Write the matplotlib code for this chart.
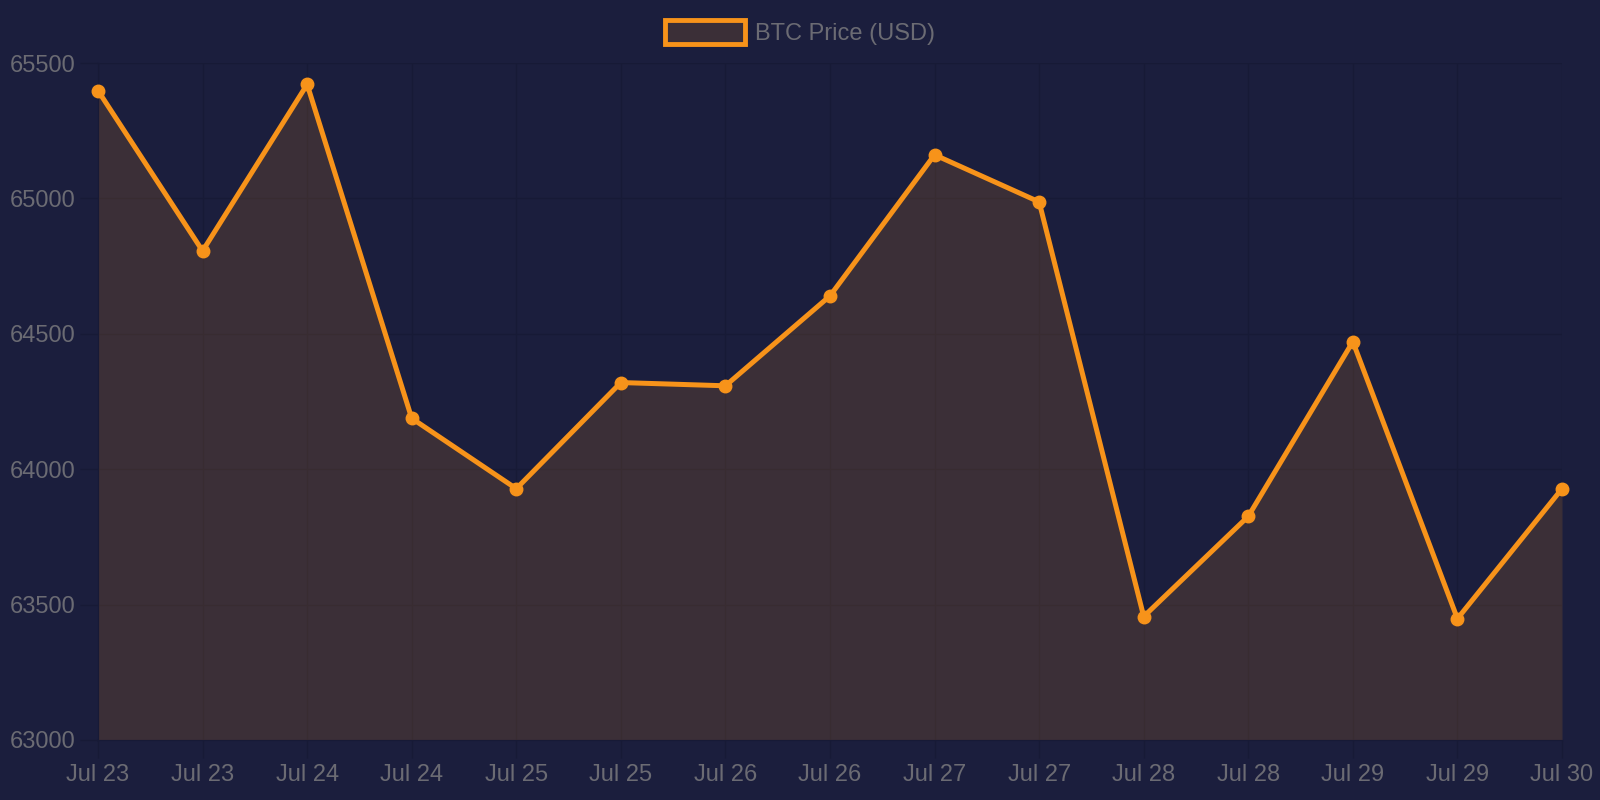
import matplotlib.pyplot as plt
from matplotlib.patches import Patch

# ── Data ──
labels = ['Jul 23', 'Jul 23', 'Jul 24', 'Jul 24', 'Jul 25', 'Jul 25', 'Jul 26', 'Jul 26',
          'Jul 27', 'Jul 27', 'Jul 28', 'Jul 28', 'Jul 29', 'Jul 29', 'Jul 30']
price = [65398, 64806, 65421, 64188, 63928, 64320, 64308, 64640,
         65161, 64987, 63456, 63826, 64471, 63448, 63928]
y_ticks = [63000, 63500, 64000, 64500, 65000, 65500]

# ── Style ──
BG = '#1b1e3d'
ORANGE = '#f7931a'
FILL = (247/255, 147/255, 26/255, 0.15)
GRID = '#171a36'
TXT = '#6b6b73'

plt.rcParams['font.family'] = ['Liberation Sans', 'DejaVu Sans']

fig = plt.figure(figsize=(16, 8), dpi=100, facecolor=BG)
ax = fig.add_axes([0.06125, 0.075, 0.915, 0.84625], facecolor=BG)

x = list(range(len(price)))
ax.fill_between(x, price, 63000, color=FILL, linewidth=0)
ax.plot(x, price, color=ORANGE, linewidth=3.6, marker='o', markersize=9,
        solid_joinstyle='miter', zorder=3, clip_on=False)

ax.set_xlim(0, len(price) - 1)
ax.set_ylim(63000, 65500)
ax.set_xticks(x)
ax.set_xticklabels(labels)
ax.set_yticks(y_ticks)
ax.set_yticklabels([str(v) for v in y_ticks])

ax.grid(True, color=GRID, linewidth=1)
ax.set_axisbelow(True)
for s in ax.spines.values():
    s.set_visible(False)
ax.spines['left'].set_visible(True)
ax.spines['left'].set_color(GRID)
ax.spines['bottom'].set_visible(True)
ax.spines['bottom'].set_color(GRID)

ax.tick_params(axis='both', colors=GRID, labelcolor=TXT, labelsize=17, length=13, width=1)
ax.tick_params(axis='x', pad=4)
ax.tick_params(axis='y', pad=3)

handle = Patch(facecolor=FILL, edgecolor=ORANGE, linewidth=3.5, label='BTC Price (USD)')
leg = fig.legend(handles=[handle], loc='upper center', bbox_to_anchor=(0.5, 1.002),
                 frameon=False, fontsize=17, handlelength=3.4, handleheight=1.2,
                 handletextpad=0.45, labelcolor=TXT)

plt.savefig('out.png', dpi=100, facecolor=BG)
